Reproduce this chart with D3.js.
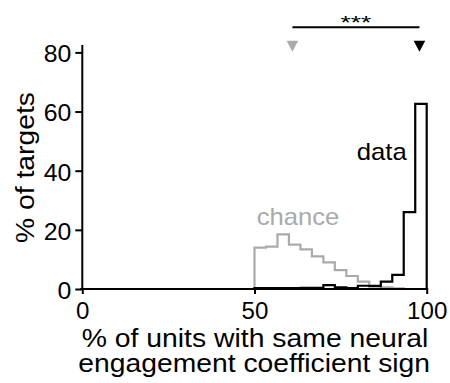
<!DOCTYPE html>
<html><head><meta charset="utf-8">
<script src="https://cdn.jsdelivr.net/npm/d3@7"></script>
<style>body{margin:0;background:#fff}svg{display:block}text{font-family:"Liberation Sans",Arial,sans-serif}</style>
</head><body>
<svg id="c" width="450" height="383"></svg>
<script>
const binEdges = [50,53.33,56.67,60,63.33,66.67,70,73.33,76.67,80,83.33,86.67,90,93.33,96.67,100];
const chanceVals = [14,14.3,18.5,15,13.4,11,9,6.4,4.4,2.5,1.2,0.6,0.2,0,0];
const dataVals = [0.3,0.3,0.3,0.3,0.4,0.4,1.3,0.6,0.3,1.1,1.0,2.5,4.8,26,62.6];
const xTicks = [0,50,100];
const yTicks = [0,20,40,60,80];
const chanceMedian = 61, dataMedian = 97.9;

const svg = d3.select("#c");
const x = d3.scaleLinear().domain([0,100]).range([82.3,426.7]);
const y = d3.scaleLinear().domain([0,82.5]).range([289,45]);
const gray = "#aaaaaa";

function stairs(vals){
  const pts=[[binEdges[0],0]];
  vals.forEach((v,i)=>{pts.push([binEdges[i],v]);pts.push([binEdges[i+1],v]);});
  pts.push([binEdges[binEdges.length-1],0]);
  return d3.line().x(d=>x(d[0])).y(d=>y(d[1]))(pts);
}
svg.append("path").attr("d",stairs(chanceVals)).attr("fill","none").attr("stroke",gray).attr("stroke-width",2.2);
svg.append("path").attr("d",stairs(dataVals)).attr("fill","none").attr("stroke","#000").attr("stroke-width",2.2);

const xa = svg.append("g").attr("transform","translate(0,289)").call(d3.axisBottom(x).tickValues(xTicks).tickSize(5).tickPadding(8));
const ya = svg.append("g").attr("transform","translate(82.3,0)").call(d3.axisLeft(y).tickValues(yTicks).tickSize(7).tickPadding(4));
[xa,ya].forEach(a=>{a.select(".domain").attr("stroke-width",2);a.selectAll(".tick line").attr("stroke-width",2);a.selectAll("text").attr("font-size",23.5).attr("font-family","Liberation Sans").attr("fill","#000");});
xa.select(".domain").attr("d",`M${x(0)-2},0H${x(100)+1}`);
ya.select(".domain").attr("d",`M0,${y(0)+1}V${y(82.5)}`);
xa.selectAll(".tick line").attr("y1",-1);
xa.selectAll(".tick text").each(function(){const t=d3.select(this);const n=t.text().length;t.attr("textLength",n*13.4).attr("lengthAdjust","spacingAndGlyphs");});
ya.selectAll(".tick text").attr("dy","0.4em").each(function(){const t=d3.select(this);const n=t.text().length;t.attr("textLength",n*13.8).attr("lengthAdjust","spacingAndGlyphs");});

function label(xp,yp,txt,fs,len,col,anchor){
  return svg.append("text").attr("x",xp).attr("y",yp).attr("font-size",fs).attr("fill",col||"#000")
    .attr("text-anchor",anchor||"start").attr("textLength",len).attr("lengthAdjust","spacingAndGlyphs").text(txt);
}
label(255,346.5,"% of units with same neural",25,346.7,"#000","middle");
label(254.2,372.3,"engagement coefficient sign",25,351.7,"#000","middle");
svg.append("text").attr("transform","translate(34,167.5) rotate(-90)").attr("text-anchor","middle").attr("font-size",25)
  .attr("textLength",151).attr("lengthAdjust","spacingAndGlyphs").text("% of targets");

label(256.7,224.5,"chance",24,82.7,gray);
label(356.7,159.5,"data",24,50,"#000");

label((x(chanceMedian)+x(dataMedian))/2,28.5,"***",18,30.7,"#000","middle");
svg.append("line").attr("x1",x(chanceMedian)).attr("x2",x(dataMedian)).attr("y1",27.3).attr("y2",27.3).attr("stroke","#000").attr("stroke-width",2);
const triPath = d3.line()([[-5.8,0],[5.8,0],[0,11]]) + "Z";
[[chanceMedian,gray],[dataMedian,"#000"]].forEach(([m,c])=>{
  svg.append("path").attr("d",triPath).attr("transform",`translate(${x(m)},40.7)`).attr("fill",c);
});
</script></body></html>
